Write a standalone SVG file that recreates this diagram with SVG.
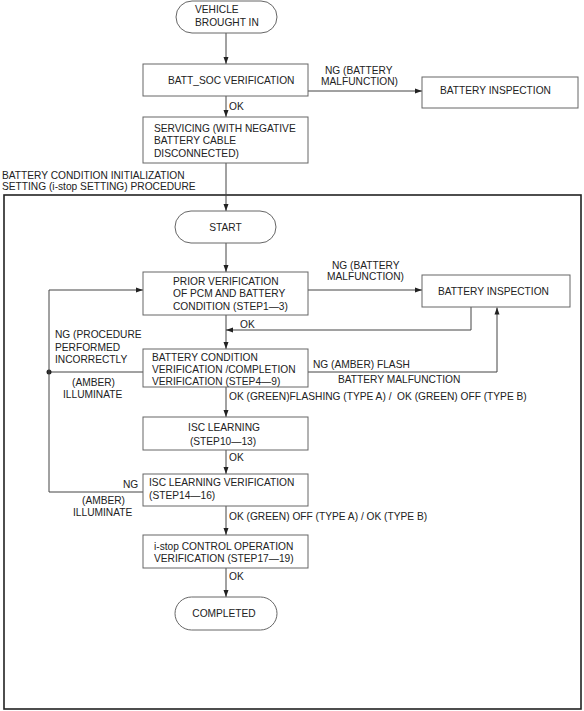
<svg xmlns="http://www.w3.org/2000/svg" width="584" height="711" viewBox="0 0 584 711">
<style>
text{font-family:"Liberation Sans",Arial,sans-serif;font-size:10.2px;fill:#222}
.box{fill:#fff;stroke:#666;stroke-width:1}
.ln{fill:none;stroke:#444;stroke-width:1}
.frame{fill:none;stroke:#222;stroke-width:1.6}
.c{text-anchor:middle}
</style>
<defs>
<marker id="ah" markerWidth="8" markerHeight="6" refX="7" refY="3" orient="auto" markerUnits="userSpaceOnUse">
<path d="M0,0.5 L7,3 L0,5.5 Z" fill="#222"/>
</marker>
</defs>
<rect class="frame" x="4" y="195" width="577" height="514"/>
<text x="2" y="178.5">BATTERY CONDITION INITIALIZATION</text>
<text x="2" y="189.5">SETTING (i-stop SETTING) PROCEDURE</text>
<g id="connectors">
<path class="ln" d="M226,33 V64" marker-end="url(#ah)"/>
<path class="ln" d="M308,91 H422" marker-end="url(#ah)"/>
<path class="ln" d="M226,96 V117" marker-end="url(#ah)"/>
<path class="ln" d="M226,163 V211" marker-end="url(#ah)"/>
<path class="ln" d="M226,243 V272" marker-end="url(#ah)"/>
<path class="ln" d="M308,290 H422" marker-end="url(#ah)"/>
<path class="ln" d="M226,315 V349" marker-end="url(#ah)"/>
<path class="ln" d="M471,307 V330 H226" marker-end="url(#ah)"/>
<path class="ln" d="M308,372 H497 V307.5" marker-end="url(#ah)"/>
<path class="ln" d="M143,372 H49"/>
<circle cx="49" cy="372" r="2.5" fill="#222"/>
<path class="ln" d="M143,492 H49 V290 H143" marker-end="url(#ah)"/>
<path class="ln" d="M226,387 V417" marker-end="url(#ah)"/>
<path class="ln" d="M226,450 V474" marker-end="url(#ah)"/>
<path class="ln" d="M226,506 V535" marker-end="url(#ah)"/>
<path class="ln" d="M226,568 V597" marker-end="url(#ah)"/>
<text x="325" y="73.5">NG (BATTERY</text>
<text x="321" y="85">MALFUNCTION)</text>
<text x="229" y="109.5">OK</text>
<text x="332" y="269">NG (BATTERY</text>
<text x="327" y="280">MALFUNCTION)</text>
<text x="240" y="327.5">OK</text>
<text x="313" y="367.5">NG (AMBER) FLASH</text>
<text x="338" y="383">BATTERY MALFUNCTION</text>
<text x="55" y="337.5">NG (PROCEDURE</text>
<text x="55" y="351">PERFORMED</text>
<text x="55" y="363">INCORRECTLY</text>
<text x="72" y="386">(AMBER)</text>
<text x="63" y="397.5">ILLUMINATE</text>
<text x="229" y="400" xml:space="preserve">OK (GREEN)FLASHING (TYPE A) /  OK (GREEN) OFF (TYPE B)</text>
<text x="229" y="461">OK</text>
<text x="123" y="488">NG</text>
<text x="82" y="503.5">(AMBER)</text>
<text x="73" y="516">ILLUMINATE</text>
<text x="229" y="520">OK (GREEN) OFF (TYPE A) / OK (TYPE B)</text>
<text x="229" y="580">OK</text>
</g>
<g id="vehicle">
<rect class="box" x="176" y="1" width="101" height="32" rx="16"/>
<text x="195" y="13">VEHICLE</text>
<text x="195" y="26">BROUGHT IN</text>
</g>
<g id="battsoc">
<rect class="box" x="143" y="64" width="165" height="32"/>
<text x="168" y="83.5">BATT_SOC VERIFICATION</text>
</g>
<g id="inspection1">
<rect class="box" x="422" y="77" width="156" height="31"/>
<text x="440" y="93.5">BATTERY INSPECTION</text>
</g>
<g id="servicing">
<rect class="box" x="143" y="117" width="165" height="46"/>
<text x="154" y="132">SERVICING (WITH NEGATIVE</text>
<text x="154" y="144">BATTERY CABLE</text>
<text x="154" y="156.5">DISCONNECTED)</text>
</g>
<g id="start">
<rect class="box" x="175" y="211" width="101" height="32" rx="16"/>
<text class="c" x="225.5" y="230.5">START</text>
</g>
<g id="prior">
<rect class="box" x="143" y="272" width="165" height="43"/>
<text x="173" y="284.5">PRIOR VERIFICATION</text>
<text x="173" y="297">OF PCM AND BATTERY</text>
<text x="173" y="309.5">CONDITION (STEP1—3)</text>
</g>
<g id="inspection2">
<rect class="box" x="422" y="275" width="148" height="32"/>
<text x="438" y="294.5">BATTERY INSPECTION</text>
</g>
<g id="condition">
<rect class="box" x="143" y="349" width="165" height="38"/>
<text x="152" y="360.5">BATTERY CONDITION</text>
<text x="152" y="372.5">VERIFICATION /COMPLETION</text>
<text x="152" y="384.5">VERIFICATION (STEP4—9)</text>
</g>
<g id="isclearning">
<rect class="box" x="143" y="417" width="165" height="33"/>
<text class="c" x="224" y="431">ISC LEARNING</text>
<text class="c" x="223" y="444.5">(STEP10—13)</text>
</g>
<g id="iscverification">
<rect class="box" x="143" y="474" width="165" height="32"/>
<text x="149" y="485.5">ISC LEARNING VERIFICATION</text>
<text x="149" y="498.5">(STEP14—16)</text>
</g>
<g id="istop">
<rect class="box" x="143" y="535" width="165" height="33"/>
<text x="154" y="549.5">i-stop CONTROL OPERATION</text>
<text x="154" y="562">VERIFICATION (STEP17—19)</text>
</g>
<g id="completed">
<rect class="box" x="175" y="597" width="102" height="33" rx="16.5"/>
<text class="c" x="224" y="616.5">COMPLETED</text>
</g>
</svg>
